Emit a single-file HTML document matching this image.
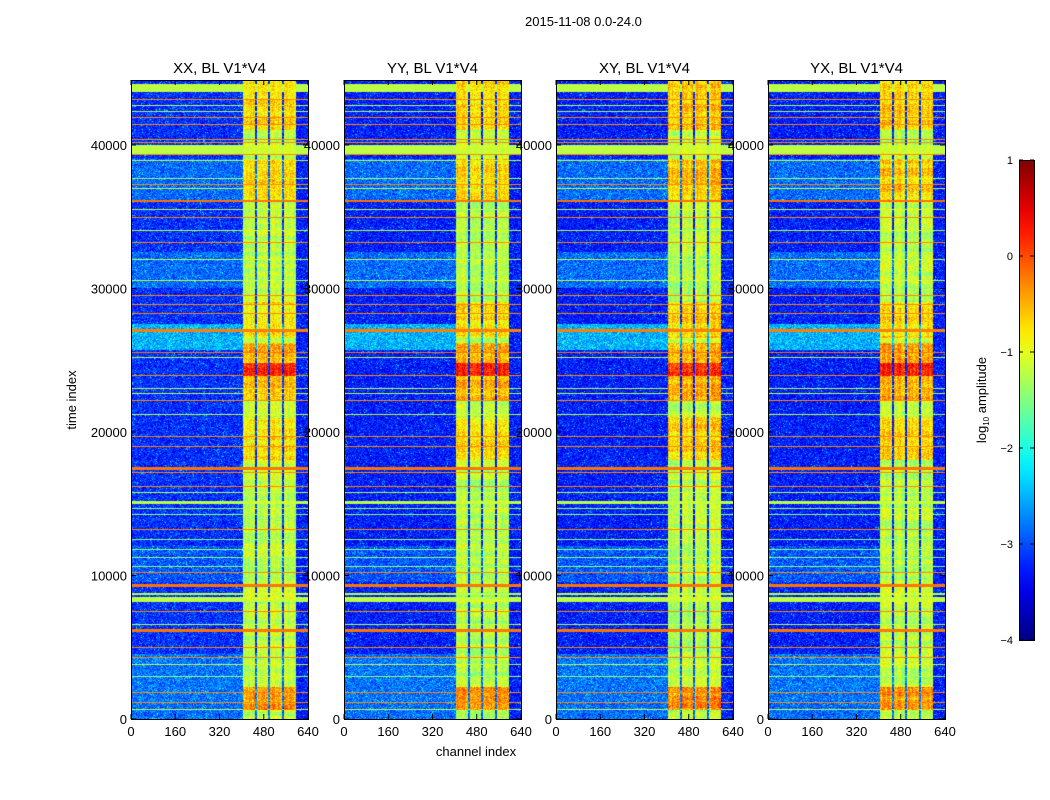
<!DOCTYPE html>
<html><head><meta charset="utf-8"><style>
body{margin:0;background:#fff;width:1050px;height:800px;overflow:hidden;font-family:"Liberation Sans",sans-serif}
#root{position:relative;width:1050px;height:800px}
.t{position:absolute;font-size:13px;color:#000;white-space:nowrap}
canvas{position:absolute}
</style></head><body><div id="root">
<div class="t" style="left:525px;top:14px;">2015-11-08 0.0-24.0</div>
</div>
<script>
// ---- data ----
const panelTitles = ["XX, BL V1*V4","YY, BL V1*V4","XY, BL V1*V4","YX, BL V1*V4"];
const xTicks = [0,160,320,480,640];
const yTicks = [0,10000,20000,30000,40000];
const cbTicks = [1,0,-1,-2,-3,-4];
const bandCols = [[405,448],[455,495],[502,547],[553,597]];
// RFI rows: [time index, width, log10 amplitude]
const rfiT = [44100,43800,43150,42700,42300,41900,41400,40350,40150,39650,39300,38900,37600,37200,36900,36050,35500,34900,34000,33200,32000,30500,29500,28850,28220,27040,25500,25150,23900,23000,22650,22160,21180,19650,18950,17420,17140,16170,15750,15050,14600,14200,13170,12500,11800,11200,10600,10170,9270,8700,8290,7460,6550,6130,4950,4250,3760,2900,1810,1110,600];
const rfiW = [250,350,90,80,80,80,90,90,90,700,80,80,70,70,70,180,70,70,70,70,70,70,70,90,90,150,120,80,80,90,80,100,80,80,100,180,80,80,80,250,70,70,80,70,70,70,70,80,200,120,400,90,90,200,90,90,90,70,100,80,70];
const rfiV = [-1.2,-1.2,-0.3,-1.2,-1.3,-0.3,-0.3,-0.3,-0.3,-1.2,-0.3,-1.2,-1.3,-0.3,-1.2,-0.2,-1.2,-0.3,-1.2,-0.3,-1.2,-1.2,-0.3,-0.3,-0.3,-0.25,-0.2,-1.2,-0.3,-1.2,-1.2,-0.3,-1.2,-0.3,-0.3,-0.2,-0.3,-0.3,-1.2,-1.2,-1.4,-1.4,-0.3,-1.4,-1.4,-1.4,-1.4,-0.3,-0.2,-1.2,-1.2,-0.3,-1.2,-0.2,-0.3,-0.3,-1.2,-1.4,-0.3,-0.3,-1.2];
// Background zones for channels 0-400: [t0, t1, level]
const bgT0 = [25700,30000,1000,36000,9500,0];
const bgT1 = [27500,32500,4500,39000,12000,1000];
const bgV = [-2.5,-2.85,-2.8,-2.85,-2.95,-2.85];
// Hot zones in band channels: [t0,t1,level]
const hotT0 = [22200,23900,18000,36000,600,41000,26500];
const hotT1 = [26200,24800,21000,39000,2200,44500,29000];
const hotV = [-0.55,0.2,-0.8,-0.75,-0.4,-0.75,-0.8];
const panelHot = [1.0,0.9,0.85,0.9];
// ---- rendering ----
const root=document.getElementById('root');
const PX=[131,344,556,768], PW=177, PY=80, PH=639, TMAX=44530, CMAX=640;
const tToY=t=>719-t*639/TMAX;
const cToX=(p,c)=>PX[p]+c*PW/CMAX;
function jet(v){let x=(v+4)/5;x=Math.max(0,Math.min(1,x));
 const f=a=>Math.max(0,Math.min(1,a));
 return [f(1.5-Math.abs(4*x-3)),f(1.5-Math.abs(4*x-2)),f(1.5-Math.abs(4*x-1))].map(q=>Math.round(q*255));}
function hash(a,b,s){let h=(a*374761393+b*668265263+s*982451653)|0;h=(h^(h>>>13))*1274126177|0;return ((h^(h>>>16))>>>0)/4294967296;}
function val(p,t,c,xi,yi){
 let n=hash(xi,yi,p);
 let inBand=false;for(const b of bandCols){if(c>=b[0]&&c<=b[1])inBand=true;}
 let v;
 if(inBand){let lv=-1.2;for(let i=0;i<hotT0.length;i++){if(t>=hotT0[i]&&t<=hotT1[i])lv=Math.max(lv,hotV[i]*panelHot[p]);}
  v=lv+(n-0.5)*0.7+(hash(xi,0,p+7)-0.5)*0.35+(hash(0,yi>>2,p+3)-0.5)*0.3;}
 else{let lv=-3.25+(p==0?0.1:0);for(let i=0;i<bgT0.length;i++){if(t>=bgT0[i]&&t<=bgT1[i])lv=bgV[i];}
  if(c>597)lv=-3.25;v=lv+(n-0.5)*0.8;if(n>0.97)v+=0.5;}
 for(let i=0;i<rfiT.length;i++){if(Math.abs(t-rfiT[i])<=rfiW[i]/2)v=Math.max(v,rfiV[i]);}
 return v;}
const names=["xx","yy","xy","yx"];
for(let p=0;p<4;p++){
 const cv=document.createElement('canvas');cv.width=PW;cv.height=PH;
 cv.style.left=PX[p]+'px';cv.style.top=PY+'px';
 
 
 const ctx=cv.getContext('2d');const img=ctx.createImageData(PW,PH);
 for(let yi=0;yi<PH;yi++){const t=(PH-1-yi)*TMAX/PH;
  for(let xi=0;xi<PW;xi++){const c=(xi+0.5)*CMAX/PW;const col=jet(val(p,t,c,xi,yi));const k=(yi*PW+xi)*4;
   img.data[k]=col[0];img.data[k+1]=col[1];img.data[k+2]=col[2];img.data[k+3]=255;}}
 ctx.putImageData(img,0,0);root.appendChild(cv);
}
const svgNS="http://www.w3.org/2000/svg";
const svg=document.createElementNS(svgNS,'svg');svg.setAttribute('width',1050);svg.setAttribute('height',800);
svg.style.position='absolute';svg.style.left='0';svg.style.top='0';
root.appendChild(svg);
function el(tag,attrs,parent){const e=document.createElementNS(svgNS,tag);for(const k in attrs)e.setAttribute(k,attrs[k]);(parent||svg).appendChild(e);return e;}
function txt(x,y,s,anchor,size,name){const e=el('text',{x:x,y:y,'text-anchor':anchor,'font-size':size,'font-family':'Liberation Sans, sans-serif',fill:'#000'});e.textContent=s;
 
 return e;}
for(let p=0;p<4;p++){
 const r=el('rect',{x:PX[p]+0.5,y:PY+0.5,width:PW,height:PH,fill:'none',stroke:'#000','stroke-width':1});
 
 
 txt(PX[p]+PW/2,73,panelTitles[p],'middle',15,'panel-title-'+names[p]);
 for(const xt of xTicks){const x=cToX(p,xt);
  el('line',{x1:x,x2:x,y1:PY+PH,y2:PY+PH-5,stroke:'#000'});el('line',{x1:x,x2:x,y1:PY,y2:PY+5,stroke:'#000'});
  txt(x,736,String(xt),'middle',13,'x-tick-label');}
 for(const yt of yTicks){const y=tToY(yt);
  el('line',{x1:PX[p],x2:PX[p]+5,y1:y,y2:y,stroke:'#000'});el('line',{x1:PX[p]+PW,x2:PX[p]+PW-5,y1:y,y2:y,stroke:'#000'});
  txt(PX[p]-4,y+5,String(yt),'end',13,'y-tick-label');}
}
txt(476,756,'channel index','middle',13,'x-axis-title');
const yt=txt(0,0,'time index','middle',13,'y-axis-title');yt.setAttribute('transform','translate(76,400) rotate(-90)');
// colorbar
const defs=el('defs',{});const g=el('linearGradient',{id:'jg',x1:0,y1:1,x2:0,y2:0},defs);
for(let i=0;i<=20;i++){const c=jet(-4+i*5/20);el('stop',{offset:(i/20),'stop-color':'rgb('+c.join(',')+')'},g);}
const cb=el('rect',{x:1019.5,y:160.5,width:15,height:480,fill:'url(#jg)',stroke:'#000','stroke-width':1});


for(const v of cbTicks){const y=160+(1-v)*96;
 el('line',{x1:1019,x2:1023,y1:y,y2:y,stroke:'#000'});el('line',{x1:1030,x2:1034,y1:y,y2:y,stroke:'#000'});
 txt(1013,y+4,v<0?'\u2212'+(-v):String(v),'end',11,'colorbar-tick-label');}
const cl=el('text',{'font-size':13,'font-family':'Liberation Sans, sans-serif','text-anchor':'middle',transform:'translate(986,400) rotate(-90)'});


const s1=el('tspan',{},cl);s1.textContent='log';const s2=el('tspan',{'font-size':8,dy:3},cl);s2.textContent='10';const s3=el('tspan',{dy:-3},cl);s3.textContent=' amplitude';
</script></body></html>
